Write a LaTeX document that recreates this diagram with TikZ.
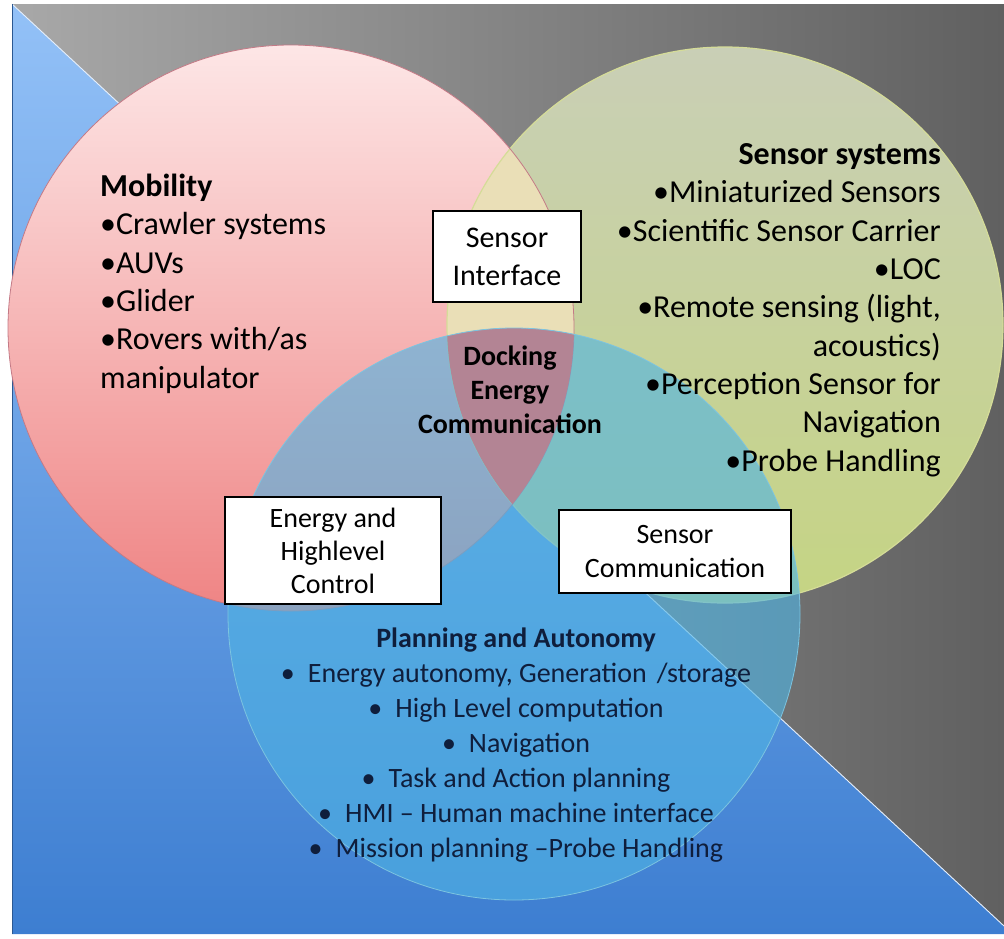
\documentclass[tikz,border=0pt]{standalone}
\usepackage{fontspec}
\setmainfont{Carlito}
\definecolor{bgtop}{HTML}{93C1F7}
\definecolor{bgbot}{HTML}{3D7ED1}
\definecolor{grayL}{HTML}{A8A8A8}
\definecolor{grayR}{HTML}{606060}
\definecolor{redtop}{HTML}{FDE6E6}
\definecolor{redbot}{HTML}{EF8484}
\definecolor{greentop}{HTML}{C9CFB6}
\definecolor{greenbot}{HTML}{C5D483}
\definecolor{beige}{HTML}{EADFB7}
\definecolor{bluec}{HTML}{4FB4E4}
\definecolor{mauve}{HTML}{B38494}
\definecolor{redline}{HTML}{C47A86}
\definecolor{blueline}{HTML}{7CC4E0}
\definecolor{greenline}{HTML}{D5DC98}
\definecolor{plantext}{HTML}{0F1E3C}
\tikzset{
  bigtext/.style={inner sep=0pt, font=\fontsize{32pt}{38.3pt}\selectfont, text=black},
  midtext/.style={inner sep=0pt, font=\fontsize{28pt}{35pt}\selectfont},
  labelbox/.style={draw=black, line width=1.3pt, fill=white, inner sep=0pt, align=center}
}
\begin{document}
\begin{tikzpicture}[x=1pt,y=-1pt]
\useasboundingbox (0,0) rectangle (1004,938);
% background split along the diagonal
\shade[top color=bgtop, bottom color=bgbot] (12,4) -- (12,934) -- (1004,934) -- (1004,926) -- cycle;
\shade[left color=grayL, right color=grayR] (12,4) -- (1004,4) -- (1004,926) -- cycle;
\draw[white!75!bgtop, line width=0.9pt] (12,4) -- (1004,926);
\draw[bgbot!70!black, line width=0.6pt] (12,4) -- (12,934);

% circle centres
\coordinate (cR) at (291,328);
\coordinate (cG) at (725,325);
\coordinate (cB) at (514,614);

% Mobility and Sensor systems circles
\shade[top color=redtop, bottom color=redbot] (cR) circle[radius=283pt];
\shade[top color=greentop, bottom color=greenbot] (cG) circle[radius=278pt];
\begin{scope}
  \clip (cR) circle[radius=283pt];
  \fill[beige] (cG) circle[radius=278pt];
\end{scope}
\draw[greenline, line width=1.2pt] (cG) circle[radius=278pt];
\draw[redline, line width=0.8pt] (cR) circle[radius=283pt];

% Planning and Autonomy circle
\fill[bluec, fill opacity=0.62] (cB) circle[radius=286pt];
\begin{scope}
  \clip (cR) circle[radius=283pt];
  \clip (cG) circle[radius=278pt];
  \fill[mauve] (cB) circle[radius=286pt];
\end{scope}
\draw[blueline, line width=0.8pt] (cB) circle[radius=286pt];

% texts of the three circles (positioned by the baseline of their last line)
\node[bigtext, anchor=base west, align=left] (mob) at (100,388)
  {\textbf{Mobility}\\•Crawler systems\\•AUVs\\•Glider\\•Rovers with/as\\manipulator};
\node[bigtext, anchor=base east, align=right] (sens) at (941,471)
  {\textbf{Sensor systems}\\•Miniaturized Sensors\\•Scientific Sensor Carrier\\•LOC\\•Remote sensing (light,\\acoustics)\\•Perception Sensor for\\Navigation\\•Probe Handling};
\node[midtext, text=black, anchor=base, align=center, font=\fontsize{28pt}{34pt}\selectfont\bfseries] (dock) at (510,433)
  {Docking\\Energy\\Communication};
\node[midtext, text=plantext, anchor=base, align=center] (plan) at (516,857)
  {\textbf{Planning and Autonomy}\\
   •\hspace{13pt}Energy autonomy, Generation\hspace{10pt}/storage\\
   •\hspace{13pt}High Level computation\\
   •\hspace{13pt}Navigation\\
   •\hspace{13pt}Task and Action planning\\
   •\hspace{13pt}HMI – Human machine interface\\
   •\hspace{13pt}Mission planning –Probe Handling};

% overlap labels
\node[labelbox, minimum width=148pt, minimum height=91pt, font=\fontsize{30pt}{38pt}\selectfont] (si) at (507,256.5)
  {Sensor\\Interface};
\node[labelbox, minimum width=216pt, minimum height=107pt, font=\fontsize{28pt}{33pt}\selectfont] (ehc) at (333,550.5)
  {Energy and\\Highlevel\\Control};
\node[labelbox, minimum width=232pt, minimum height=83pt, font=\fontsize{28pt}{34pt}\selectfont] (sc) at (675,551.5)
  {Sensor\\Communication};
\end{tikzpicture}
\end{document}
